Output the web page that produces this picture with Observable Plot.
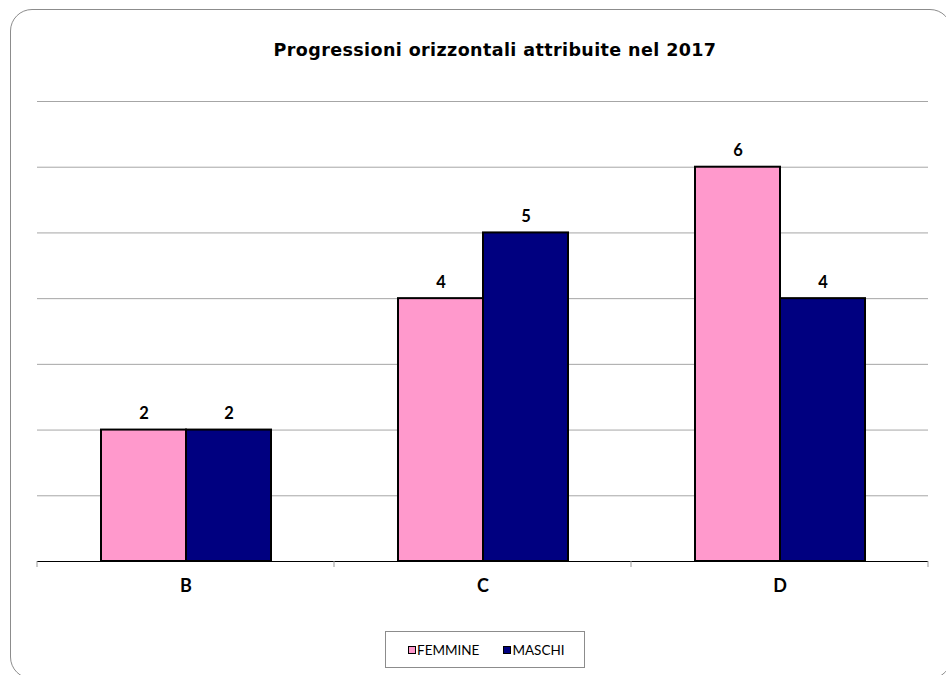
<!DOCTYPE html>
<html>
<head>
<meta charset="utf-8">
<script src="https://cdn.jsdelivr.net/npm/d3@7"></script>
<script src="https://cdn.jsdelivr.net/npm/@observablehq/plot@0.6"></script>
<style>
  html, body { margin: 0; padding: 0; background: #fff; overflow: hidden; }
  #wrap { position: relative; width: 946px; height: 675px; overflow: hidden; font-family: Lato, "DejaVu Sans", sans-serif; }
  #frame { position: absolute; left: 10px; top: 9px; width: 942px; height: 670px; border: 1px solid #8c8c8c; border-radius: 22px; box-sizing: border-box; }
  #title { position: absolute; left: 495px; top: 40px; transform: translateX(-50%); white-space: nowrap; font-family: "DejaVu Sans", sans-serif; font-size: 17.5px; letter-spacing: 0.4px; font-weight: bold; line-height: 20px; color: #000; }
  #chart { position: absolute; left: 0; top: 0; }
  #legend { position: absolute; left: 385px; top: 631px; width: 200px; height: 37px; border: 1px solid #8c8c8c; box-sizing: border-box; display: flex; align-items: center; padding-left: 22px; font-size: 13.5px; color: #000; }
  .item { display: flex; align-items: center; margin-right: 24px; }
  .sw { width: 6px; height: 6px; border: 1.5px solid #000; margin-right: 1px; }
</style>
</head>
<body>
<div id="wrap">
  <div id="frame"></div>
  <div id="title"></div>
  <div id="chart"></div>
  <div id="legend"></div>
</div>
<script>
const titleText = "Progressioni orizzontali attribuite nel 2017";
const categories = ["B", "C", "D"];
const series = ["FEMMINE", "MASCHI"];
const femmine = [2, 4, 6];
const maschi = [2, 5, 4];
const yTicks = [0, 1, 2, 3, 4, 5, 6, 7];
const colors = ["#FF99CC", "#000080"];

const data = categories.flatMap((c, i) => [
  {cat: c, sex: series[0], value: femmine[i]},
  {cat: c, sex: series[1], value: maschi[i]}
]);

document.getElementById("title").textContent = titleText;

const plot = Plot.plot({
  width: 946,
  height: 610,
  marginTop: 101,
  marginBottom: 49,
  marginLeft: 37,
  marginRight: 18,
  style: {fontFamily: "Lato, 'DejaVu Sans', sans-serif", background: "transparent", overflow: "visible"},
  fx: {domain: categories, padding: 0, label: null},
  x: {domain: series, paddingInner: 0, paddingOuter: 0.747, axis: null},
  y: {domain: [0, 7], axis: null},
  color: {domain: series, range: colors},
  marks: [
    Plot.ruleY(yTicks.filter(d => d > 0), {stroke: "#a6a6a6", strokeWidth: 1}),
    Plot.barY(data, {fx: "cat", x: "sex", y: "value", fill: "sex", stroke: "#000", strokeWidth: 2}),
    Plot.text(data, {fx: "cat", x: "sex", y: "value", text: d => String(d.value), dy: -11, lineAnchor: "bottom", fontWeight: "bold", fontSize: 16.5, fill: "#000"}),
    Plot.ruleY([0], {stroke: "#000", strokeWidth: 1.2}),
    Plot.axisFx({anchor: "bottom", tickSize: 0, tickPadding: 18, fontSize: 18, fontWeight: "bold", label: null, fill: "#000"})
  ]
});
document.getElementById("chart").appendChild(plot);

// boundary ticks under the baseline, positioned from the plot's own scales
const fx = plot.scale("fx");
const y = plot.scale("y");
const y0 = y.apply(0);
const bounds = categories.map(c => fx.apply(c)).concat([fx.apply(categories[categories.length - 1]) + fx.bandwidth]);
d3.select(plot).append("g")
  .selectAll("line").data(bounds).join("line")
  .attr("x1", d => d).attr("x2", d => d)
  .attr("y1", y0).attr("y2", y0 + 6)
  .attr("stroke", "#999").attr("stroke-width", 1);

// legend
const color = plot.scale("color");
const legend = d3.select("#legend");
series.forEach(s => {
  const it = legend.append("div").attr("class", "item");
  it.append("div").attr("class", "sw").style("background", color.apply(s));
  it.append("span").text(s);
});
</script>
</body>
</html>
